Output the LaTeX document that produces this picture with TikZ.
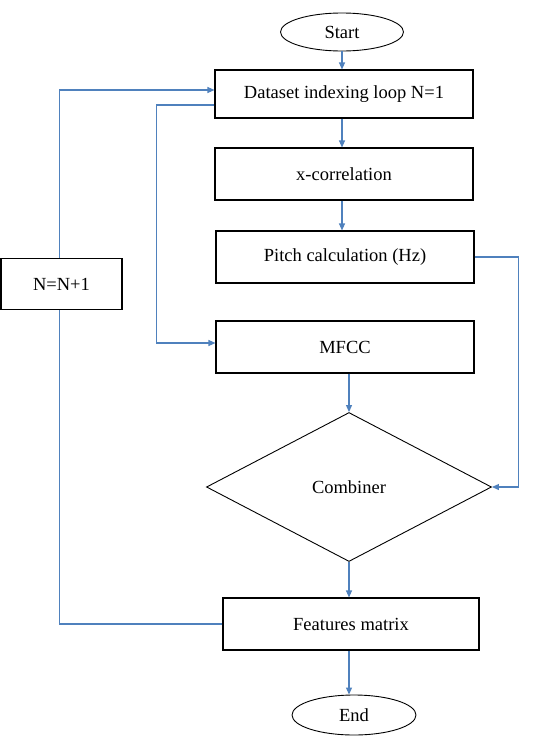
\documentclass[tikz,border=0pt]{standalone}
\usepackage{fontspec}
\setmainfont{Liberation Serif}
\usetikzlibrary{arrows.meta,shapes.geometric,positioning,calc}
\definecolor{flowblue}{RGB}{79,129,189}
\tikzstyle{process}=[rectangle,draw=black,line width=1.1pt,minimum width=258pt,minimum height=52pt,inner sep=0pt,font=\fontsize{18.5}{21}\selectfont]
\tikzstyle{terminal}=[ellipse,draw=black,line width=0.9pt,minimum width=123pt,minimum height=38pt,inner sep=0pt,font=\fontsize{18.5}{21}\selectfont]
\tikzstyle{decision}=[diamond,draw=black,line width=0.9pt,minimum width=285pt,minimum height=149pt,inner sep=0pt,font=\fontsize{18.5}{21}\selectfont]
\tikzstyle{flowedge}=[-{Triangle[length=7pt,width=6pt]},line width=1.1pt,flowblue]
\tikzstyle{flowline}=[line width=1.1pt,flowblue]

\begin{document}
\begin{tikzpicture}[x=1pt,y=-1pt]
\useasboundingbox (0,0) rectangle (544,747);
\def\colx{344}
    % main column
    \node[terminal] (start) at (342,32) {Start};
    \node[process, minimum height=48pt] (dataset) at (\colx,94) {Dataset indexing loop N=1};
    \node[process] (xcorr) at (\colx,174) {x-correlation};
    \node[process] (pitch) at (\colx+1,257) {Pitch calculation (Hz)};
    \node[process] (mfcc) at (\colx+1,347) {MFCC};
    \node[decision] (combiner) at (349,487) {Combiner};
    \node[process, minimum width=256pt] (features) at (351,624) {Features matrix};
    \node[terminal, minimum width=124pt, minimum height=40pt] (end) at (354,715) {End};
    % loop counter
    \node[process, minimum width=121pt, minimum height=51pt] (counter) at (61.5,284) {N=N+1};

    \draw[flowedge] (start.south) -- (start.south |- dataset.north);
    \draw[flowedge] (dataset.south -| start.south) -- (start.south |- xcorr.north);
    \draw[flowedge] (xcorr.south -| start.south) -- (start.south |- pitch.north);
    \draw[flowedge] (mfcc.south -| combiner.north) -- (combiner.north);
    \draw[flowedge] (combiner.south) -- (combiner.south |- features.north);
    \draw[flowedge] (combiner.south |- features.south) -- (combiner.south |- end.north);
    \draw[flowedge] (pitch.east) -- ++(44,0) |- (combiner.east);

    \draw[flowline] (features.west) -| ([xshift=-2pt]counter.south);
    \draw[flowedge] ([xshift=-2pt]counter.north) |- ([yshift=4pt]dataset.west);
    \draw[flowedge] ([yshift=-11pt]dataset.west) -- ++(-58,0) |- ([yshift=4pt]mfcc.west);

\end{tikzpicture}
\end{document}
